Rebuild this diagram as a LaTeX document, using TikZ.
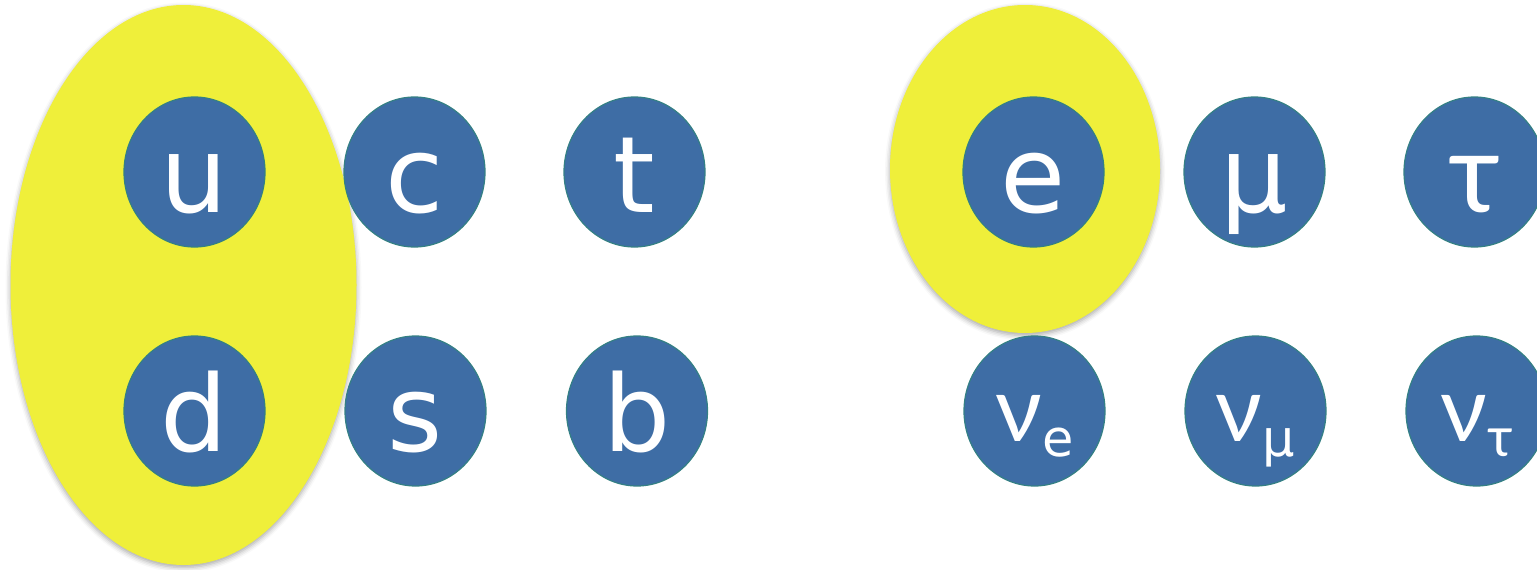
\documentclass[tikz,border=0pt]{standalone}
\usepackage{fontspec}
\setmainfont{DejaVu Sans}
\newfontfamily\greekletters{Lato}
\usetikzlibrary{shapes.geometric,shadows.blur}
\definecolor{hilite}{RGB}{239,239,58}
\definecolor{ballfill}{RGB}{62,109,165}
\definecolor{ballrim}{RGB}{52,128,132}
\tikzset{
  group/.style={ellipse, fill=hilite, draw=none, inner sep=0pt,
    blur shadow={shadow blur radius=5pt, shadow xshift=0pt, shadow yshift=-2.5pt, shadow opacity=35}},
  particle/.style={ellipse, fill=ballfill, draw=ballrim, line width=1.2pt, inner sep=0pt,
    minimum width=141pt, minimum height=150pt, text=white,
    font=\fontsize{106}{106}\selectfont, text height=80pt, text depth=0pt},
  neutrino/.style={particle, font=\fontsize{91}{91}\selectfont\greekletters, text height=60pt},
}
% lowered flavour index after a neutrino symbol
\newcommand{\flav}[1]{\raisebox{-15pt}{\fontsize{51}{51}\selectfont\rmfamily #1}}
\newcommand{\flavtau}{\raisebox{-15pt}{\fontsize{55}{55}\selectfont\greekletters τ}}
\begin{document}
\begin{tikzpicture}[x=1pt,y=-1pt]
  \useasboundingbox (0,0) rectangle (1537,570);
  % highlighted first-generation doublets
  \node[group, minimum width=346pt, minimum height=560pt] (quarkpair) at (183.5,285) {};
  \node[group, minimum width=270pt, minimum height=328pt] (leptonpair) at (1025,169) {};
  % quarks
  \node[particle] (u) at (194.5,172) {u};
  \node[particle] (c) at (414.5,172) {c};
  \node[particle] (t) at (634.5,172) {t};
  \node[particle] (d) at (194.5,411) {d};
  \node[particle] (s) at (415.5,411) {s};
  \node[particle] (b) at (637,411) {b};
  % leptons
  \node[particle] (e) at (1033.5,172) {e};
  \node[particle] (mu) at (1254.5,172) {μ};
  \node[particle, font=\fontsize{112}{112}\selectfont\greekletters] (tau) at (1474.5,172) {τ};
  \node[neutrino] (nue) at (1034.5,411) {ν\flav{e}};
  \node[neutrino] (numu) at (1255.5,411) {ν\flav{μ}};
  \node[neutrino] (nutau) at (1476.5,411) {ν\flavtau};
\end{tikzpicture}
\end{document}
